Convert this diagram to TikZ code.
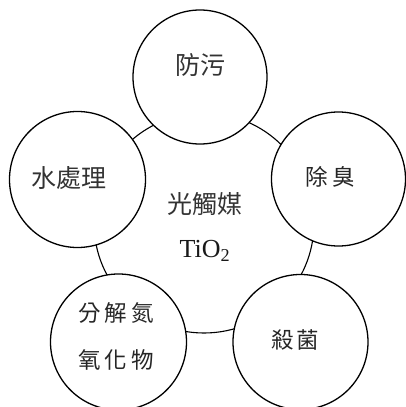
\documentclass[tikz,border=0pt]{standalone}
\usepackage{fontspec}
\setmainfont{Liberation Serif}
\newfontfamily\cjk{Noto Sans CJK TC}
\begin{document}
\begin{tikzpicture}[x=1pt,y=-1pt,
  ring/.style={circle,draw,line width=1.3pt,fill=white,inner sep=0pt},
  hub/.style={circle,draw,line width=1.1pt,inner sep=0pt},
  lab/.style={inner sep=0pt,text=black!80,font=\cjk\fontsize{25}{30}\selectfont},
  slab/.style={inner sep=0pt,text=black!85,font=\cjk\fontsize{22.5}{26}\selectfont}]
\useasboundingbox (0,0) rectangle (405,407);
\node[hub,minimum size=220pt] (c) at (204,223) {};
\node[ring,minimum size=134pt] (t) at (200,77) {};
\node[ring,minimum size=136pt] (l) at (77.5,179.5) {};
\node[ring,minimum size=134pt] (r) at (338.5,179) {};
\node[ring,minimum size=136pt] (bl) at (118.5,342) {};
\node[ring,minimum size=135pt] (br) at (300.5,342) {};
\node[lab] (tt) at (200,65) {防污};
\node[lab] (lt) at (69,178) {水處理};
\node[slab] (rt) at (330,177) {除\hspace{5pt}臭};
\node[lab] (ct) at (205,204) {光觸媒};
\node[inner sep=0pt,text=black!90,font=\fontsize{26}{30}\selectfont] (cf) at (205,251) {TiO\textsubscript{2}};
\node[slab] (blt1) at (116,313) {分\hspace{4pt}解\hspace{4pt}氮};
\node[slab] (blt2) at (116,360) {氧\hspace{4pt}化\hspace{4pt}物};
\node[slab] (brt) at (295,340) {殺\hspace{3pt}菌};
\end{tikzpicture}
\end{document}
